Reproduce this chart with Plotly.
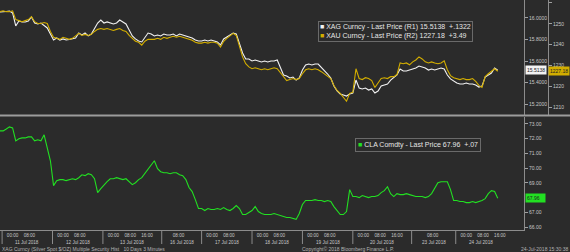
import plotly.graph_objects as go

# ---------------- data ----------------
# samples every 1.5 trading hours, starting 1 h before the 11 Jul session open
step_h = 1.5
t0_h = -1.0

silver = [16.056, 16.056, 16.060, 16.065, 16.047, 15.926, 15.972, 15.963, 15.963, 15.972,
          16.009, 15.953, 15.944, 15.953, 15.926, 15.907, 15.851, 15.795, 15.814, 15.795,
          15.805, 15.795, 15.800, 15.805, 15.814, 15.860, 15.842, 15.860, 15.833, 15.851,
          15.907, 15.953, 15.981, 15.953, 15.963, 15.953, 15.944, 15.953, 15.981, 15.963,
          15.944, 15.888, 15.833, 15.805, 15.786, 15.777, 15.814, 15.860, 15.851, 15.833,
          15.842, 15.833, 15.851, 15.842, 15.842, 15.851, 15.833, 15.851, 15.842, 15.833,
          15.823, 15.814, 15.795, 15.786, 15.786, 15.795, 15.786, 15.795, 15.786, 15.777,
          15.749, 15.805, 15.823, 15.842, 15.860, 15.851, 15.767, 15.674, 15.619, 15.619,
          15.600, 15.609, 15.600, 15.591, 15.600, 15.591, 15.600, 15.600, 15.609, 15.535,
          15.470, 15.460, 15.442, 15.451, 15.423, 15.442, 15.516, 15.563, 15.572, 15.563,
          15.572, 15.572, 15.544, 15.516, 15.479, 15.442, 15.367, 15.321, 15.293, 15.284,
          15.274, 15.293, 15.302, 15.423, 15.349, 15.340, 15.349, 15.330, 15.340, 15.302,
          15.321, 15.367, 15.377, 15.386, 15.423, 15.451, 15.470, 15.526, 15.507, 15.507,
          15.516, 15.526, 15.535, 15.553, 15.544, 15.535, 15.516, 15.526, 15.516, 15.526,
          15.535, 15.526, 15.470, 15.433, 15.414, 15.395, 15.386, 15.386, 15.395, 15.386,
          15.386, 15.377, 15.358, 15.367, 15.451, 15.470, 15.488, 15.535, 15.5138]

gold = [1255.8, 1256.2, 1255.8, 1255.8, 1256.2, 1252.0, 1251.5, 1251.0, 1251.5, 1252.0,
        1253.4, 1251.0, 1250.1, 1250.1, 1250.6, 1250.1, 1246.3, 1243.5, 1243.0, 1242.5,
        1243.5, 1243.0, 1242.5, 1243.0, 1244.0, 1245.4, 1244.4, 1244.9, 1244.4, 1244.9,
        1246.3, 1247.3, 1247.7, 1247.3, 1247.7, 1247.3, 1246.8, 1247.3, 1247.7, 1246.8,
        1246.3, 1244.4, 1243.0, 1241.6, 1241.1, 1239.7, 1241.6, 1242.5, 1242.5, 1242.5,
        1243.0, 1242.5, 1243.5, 1243.0, 1243.5, 1244.0, 1243.5, 1244.0, 1243.5, 1243.0,
        1242.5, 1242.1, 1241.1, 1240.7, 1240.7, 1241.1, 1240.7, 1241.1, 1241.1, 1240.7,
        1238.8, 1241.6, 1243.0, 1244.4, 1245.4, 1244.4, 1239.7, 1234.1, 1230.8, 1229.3,
        1228.4, 1228.9, 1228.4, 1227.9, 1228.4, 1227.9, 1228.4, 1228.9, 1228.4, 1226.5,
        1225.1, 1222.7, 1223.2, 1223.7, 1223.2, 1223.7, 1226.0, 1227.9, 1228.4, 1227.9,
        1228.4, 1227.9, 1227.0, 1226.0, 1225.1, 1223.7, 1220.4, 1218.0, 1216.6, 1214.7,
        1212.8, 1216.6, 1217.1, 1228.4, 1223.7, 1223.2, 1224.1, 1223.7, 1222.7, 1219.4,
        1221.8, 1223.7, 1224.1, 1223.7, 1224.6, 1224.6, 1225.6, 1231.2, 1230.8, 1231.2,
        1230.3, 1231.7, 1232.6, 1234.1, 1233.1, 1231.7, 1231.2, 1231.7, 1231.2, 1230.8,
        1231.2, 1232.2, 1227.9, 1225.1, 1224.1, 1223.7, 1223.2, 1223.7, 1223.2, 1223.2,
        1223.7, 1222.3, 1220.4, 1219.4, 1224.6, 1226.0, 1227.0, 1228.4, 1227.18]

crude = [72.53, 72.53, 72.66, 72.80, 72.73, 71.85, 71.99, 72.05, 72.05, 72.12,
         72.12, 71.85, 71.92, 71.85, 72.26, 71.31, 70.50, 68.81, 69.15, 69.22,
         69.22, 69.15, 69.22, 69.28, 69.22, 69.35, 69.55, 69.49, 69.62, 69.55,
         69.28, 68.34, 68.61, 68.88, 69.08, 69.28, 69.28, 69.35, 69.28, 69.22,
         69.28, 69.08, 68.88, 69.01, 69.22, 69.35, 69.62, 69.89, 70.16, 70.50,
         69.96, 69.76, 69.69, 69.69, 69.62, 69.69, 69.69, 69.55, 69.49, 69.22,
         68.68, 68.41, 67.86, 67.26, 67.26, 67.12, 67.26, 67.19, 67.19, 67.26,
         67.19, 67.32, 67.19, 67.12, 67.26, 67.46, 67.26, 66.85, 66.85, 66.99,
         67.12, 67.39, 67.05, 66.92, 66.85, 66.85, 66.85, 66.92, 66.85, 66.78,
         66.72, 66.65, 66.65, 66.58, 66.52, 66.92, 67.53, 67.80, 67.80, 67.80,
         67.86, 67.80, 67.80, 67.73, 67.80, 67.73, 67.39, 67.12, 66.85, 66.85,
         67.05, 68.54, 68.07, 68.07, 68.00, 68.14, 68.07, 68.00, 68.07, 68.07,
         68.14, 68.34, 68.47, 68.74, 68.27, 68.07, 68.27, 68.20, 68.20, 68.27,
         68.20, 68.14, 68.07, 68.07, 68.07, 68.00, 68.07, 68.27, 68.68, 69.01,
         69.08, 69.08, 69.08, 68.54, 67.80, 67.80, 67.73, 67.73, 67.66, 67.66,
         67.73, 67.66, 67.73, 67.80, 67.93, 68.27, 68.47, 68.41, 67.96]

silver_chg = "+.1322"
gold_chg = "+3.49"
crude_chg = "+.07"

# trading sessions on the compressed time axis (hours since 11 Jul session open)
session_labels = ["11 Jul 2018", "12 Jul 2018", "13 Jul 2018", "16 Jul 2018", "17 Jul 2018",
                  "18 Jul 2018", "19 Jul 2018", "20 Jul 2018", "23 Jul 2018", "24 Jul 2018"]
session_start = [0, 24, 48, 76, 95, 119, 143, 167, 195, 216]
session_len = [24, 24, 28, 19, 24, 24, 24, 28, 21, 24]
session_open_clock = [-5, -5, -5, 0, -5, -5, -5, -5, -2, -5]  # clock hour at open vs midnight
session_ticks = [["00:00", "08:00"], ["00:00", "08:00"], ["00:00", "08:00", "16:00"], ["08:00"],
                 ["00:00", "08:00"], ["00:00", "08:00"], ["00:00", "08:00"],
                 ["00:00", "08:00", "16:00"], ["08:00"], ["00:00", "08:00", "16:00"]]

silver_ticks = [15.2, 15.4, 15.6, 15.8, 16.0]
gold_ticks = [1210, 1220, 1230, 1240, 1250, 1260]
crude_ticks = [66, 67, 69, 70, 71, 72, 73]   # 68.00 is covered by the last-price tag

# ---------------- figure ----------------
hours = [t0_h + step_h * i for i in range(len(silver))]

BG = "#2b2b2b"
AX = "#8c8c8c"
TXT = "#c8c8c8"
FONT = "Liberation Sans, Arial, sans-serif"
SILVER_C = "#f2f2f2"
GOLD_C = "#d2ad00"
GREEN_C = "#22e022"

W, H = 570, 252
plot_right = 524 / W
gold_axis_pos = 548 / W
top_dom = [1 - 115 / H, 1.0]
bot_dom = [1 - 230 / H, 1 - 117 / H]
x_range = [-1, 248.5]

fig = go.Figure()
fig.add_trace(go.Scatter(x=hours, y=gold, mode="lines", line=dict(color=GOLD_C, width=1.1),
                         xaxis="x", yaxis="y2", showlegend=False, hoverinfo="skip"))
fig.add_trace(go.Scatter(x=hours, y=silver, mode="lines", line=dict(color=SILVER_C, width=1.1),
                         xaxis="x", yaxis="y", showlegend=False, hoverinfo="skip"))
fig.add_trace(go.Scatter(x=hours, y=crude, mode="lines", line=dict(color=GREEN_C, width=1.1),
                         xaxis="x2", yaxis="y3", showlegend=False, hoverinfo="skip"))

tickvals, ticktext = [], []
for s, oc, tl in zip(session_start, session_open_clock, session_ticks):
    for t in tl:
        tickvals.append(s + int(t[:2]) - oc)
        ticktext.append(t)

yax_common = dict(side="right", showgrid=False, zeroline=False, showline=True, linecolor=AX,
                  linewidth=1, ticks="outside", ticklen=3, tickcolor="#a0a0a0",
                  tickfont=dict(size=5, color=TXT, family=FONT))

fig.update_layout(
    width=W, height=H, margin=dict(l=0, r=0, t=0, b=0),
    paper_bgcolor=BG, plot_bgcolor=BG, showlegend=False,
    font=dict(family=FONT, color=TXT),
    xaxis=dict(domain=[0, plot_right], range=x_range, anchor="y", showticklabels=False,
               showgrid=False, zeroline=False, showline=False, ticks=""),
    xaxis2=dict(domain=[0, plot_right], range=x_range, matches="x", anchor="y3",
                showgrid=False, zeroline=False, showline=True, linecolor=AX, linewidth=1,
                tickmode="array", tickvals=tickvals, ticktext=ticktext, ticks="",
                tickfont=dict(size=4.6, color=TXT, family=FONT)),
    yaxis=dict(domain=top_dom, range=[15.098, 16.167], anchor="x", tickvals=silver_ticks,
               tickformat=".4f", **yax_common),
    yaxis2=dict(overlaying="y", anchor="free", position=gold_axis_pos,
                range=[1206.2, 1261.4], tickvals=gold_ticks, tickformat="d", **yax_common),
    yaxis3=dict(domain=bot_dom, range=[65.8, 73.47], anchor="x2", tickvals=crude_ticks,
                tickformat=".2f", **yax_common),
)

shapes = []
# panel separator
shapes.append(dict(type="line", xref="paper", yref="paper", x0=0, x1=1,
                   y0=1 - 115.5 / H, y1=1 - 115.5 / H, line=dict(color="#9c9c9c", width=2)))
# session separators below the time axis
for s in session_start:
    shapes.append(dict(type="line", xref="x2", yref="paper", x0=s, x1=s,
                       y0=bot_dom[0], y1=1 - 244 / H, line=dict(color=AX, width=1)))
fig.update_layout(shapes=shapes)

ann = []
for lab, s, L in zip(session_labels, session_start, session_len):
    ann.append(dict(x=s + L / 2, y=1 - 242 / H, xref="x2", yref="paper", text=lab,
                    showarrow=False, xanchor="center", yanchor="middle",
                    font=dict(size=4.6, color=TXT, family=FONT)))

# legends (Bloomberg style boxes)
top_legend = (f"<span style='color:{SILVER_C}'>■</span> XAG Curncy - Last Price (R1) "
              f"{silver[-1]:.4f}  {silver_chg}<br>"
              f"<span style='color:{GOLD_C}'>■</span> XAU Curncy - Last Price (R2) "
              f"{gold[-1]:.2f}  {gold_chg}")
ann.append(dict(x=318 / W, y=1 - 21 / H, xref="paper", yref="paper", text=top_legend,
                showarrow=False, xanchor="left", yanchor="top", align="left",
                bordercolor="#6a6a6a", borderwidth=1, borderpad=1, bgcolor=BG,
                font=dict(size=7, color="#e6e6e6", family=FONT)))
bot_legend = (f"<span style='color:{GREEN_C}'>■</span> CLA Comdty - Last Price "
              f"{crude[-1]:.2f}  {crude_chg}")
ann.append(dict(x=355 / W, y=1 - 138 / H, xref="paper", yref="paper", text=bot_legend,
                showarrow=False, xanchor="left", yanchor="top", align="left",
                bordercolor="#6a6a6a", borderwidth=1, borderpad=2, bgcolor=BG,
                font=dict(size=7, color="#e6e6e6", family=FONT)))

# last price tags
ann.append(dict(x=plot_right + 1 / W, y=silver[-1], xref="paper", yref="y", text=f"{silver[-1]:.4f}",
                showarrow=False, xanchor="left", yanchor="middle", bgcolor=SILVER_C, borderpad=1,
                font=dict(size=5, color="#222", family=FONT)))
ann.append(dict(x=gold_axis_pos, y=gold[-1], xref="paper", yref="y2", text=f"{gold[-1]:.2f}",
                showarrow=False, xanchor="left", yanchor="middle", bgcolor=GOLD_C, borderpad=1,
                font=dict(size=5, color="#222", family=FONT)))
ann.append(dict(x=plot_right + 1 / W, y=crude[-1], xref="paper", yref="y3", text=f"{crude[-1]:.2f}&nbsp;&nbsp;&nbsp;",
                showarrow=False, xanchor="left", yanchor="middle", bgcolor=GREEN_C, borderpad=1,
                font=dict(size=5, color="#222", family=FONT)))

# footer
foot_y = 1 - 248.5 / H
ann.append(dict(x=0, y=foot_y, xref="paper", yref="paper",
                text="XAG Curncy (Silver Spot $/OZ) Multiple Security Hist   10 Days 3 Minutes",
                showarrow=False, xanchor="left", yanchor="middle",
                font=dict(size=5, color="#b4b4b4", family=FONT)))
ann.append(dict(x=300 / W, y=foot_y, xref="paper", yref="paper",
                text="Copyright© 2018 Bloomberg Finance L.P.",
                showarrow=False, xanchor="left", yanchor="middle",
                font=dict(size=5, color="#b4b4b4", family=FONT)))
ann.append(dict(x=1, y=foot_y, xref="paper", yref="paper", text="24-Jul-2018 15:30:38",
                showarrow=False, xanchor="right", yanchor="middle",
                font=dict(size=5, color="#b4b4b4", family=FONT)))
fig.update_layout(annotations=ann)

fig.write_html("out.html")
